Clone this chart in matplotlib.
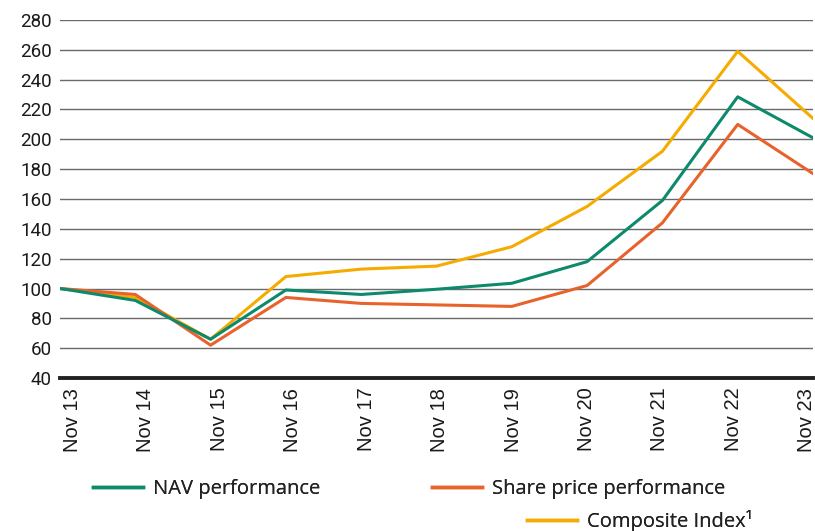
import numpy as np
import matplotlib.pyplot as plt
from matplotlib.lines import Line2D

plt.rcParams['font.family'] = ['Roboto', 'DejaVu Sans']

years = ['Nov 13', 'Nov 14', 'Nov 15', 'Nov 16', 'Nov 17', 'Nov 18',
         'Nov 19', 'Nov 20', 'Nov 21', 'Nov 22', 'Nov 23']
nav = [100, 92, 66, 99, 96, 99.5, 103.5, 118, 159, 228.5, 201]
share_price = [100, 96, 62, 94, 90, 89, 88, 102, 144, 210, 177]
composite = [100, 94, 66, 108, 113, 115, 128, 155, 192, 259, 214]

green = '#0c8a6b'
orange = '#e8622c'
yellow = '#f5ab00'

fig = plt.figure(figsize=(8.15, 5.31), dpi=100)
ax = fig.add_axes([60 / 815, 153 / 531, 753 / 815, 358 / 531])

x = np.arange(len(years))
ax.plot(x, composite, color=yellow, lw=2.2, zorder=3)
ax.plot(x, share_price, color=orange, lw=2.2, zorder=4)
ax.plot(x, nav, color=green, lw=2.2, zorder=5)

ax.set_xlim(0, 10)
ax.set_ylim(40, 280)
ax.set_yticks(range(40, 281, 20))
ax.yaxis.grid(True, color='#6a6a6a', lw=1)
ax.set_axisbelow(True)
for s in ['top', 'right', 'left']:
    ax.spines[s].set_visible(False)
ax.spines['bottom'].set_linewidth(2.8)
ax.spines['bottom'].set_color('#222222')
ax.spines['bottom'].set_zorder(6)

# labels sit on a slightly tighter spacing than the data points
ax.set_xticks(0.16 + 0.976 * x)
ax.set_xticklabels(years, rotation=90, ha='center', va='top',
                   family=['Liberation Sans', 'DejaVu Sans'], fontsize=14.5)
ax.tick_params(axis='both', length=0, colors='#1a1a1a')
ax.tick_params(axis='y', pad=6, labelsize=13.5)
ax.tick_params(axis='x', pad=7)

def entry(label, color, anchor):
    h = [Line2D([], [], color=color, lw=2.5)]
    leg = fig.legend(h, [label], loc='center left', bbox_to_anchor=anchor,
                     frameon=False, handlelength=2.5, handletextpad=0.5,
                     borderaxespad=0,
                     prop={'family': ['Open Sans', 'DejaVu Sans'], 'size': 14.5})
    for t in leg.get_texts():
        t.set_color('#222222')
    fig.add_artist(leg)

entry('NAV performance', green, (85 / 815, 1 - 489 / 531))
entry('Share price performance', orange, (424 / 815, 1 - 489 / 531))
entry('Composite Index\u00b9', yellow, (519 / 815, 1 - 521 / 531))

fig.savefig('out.png', dpi=100)
